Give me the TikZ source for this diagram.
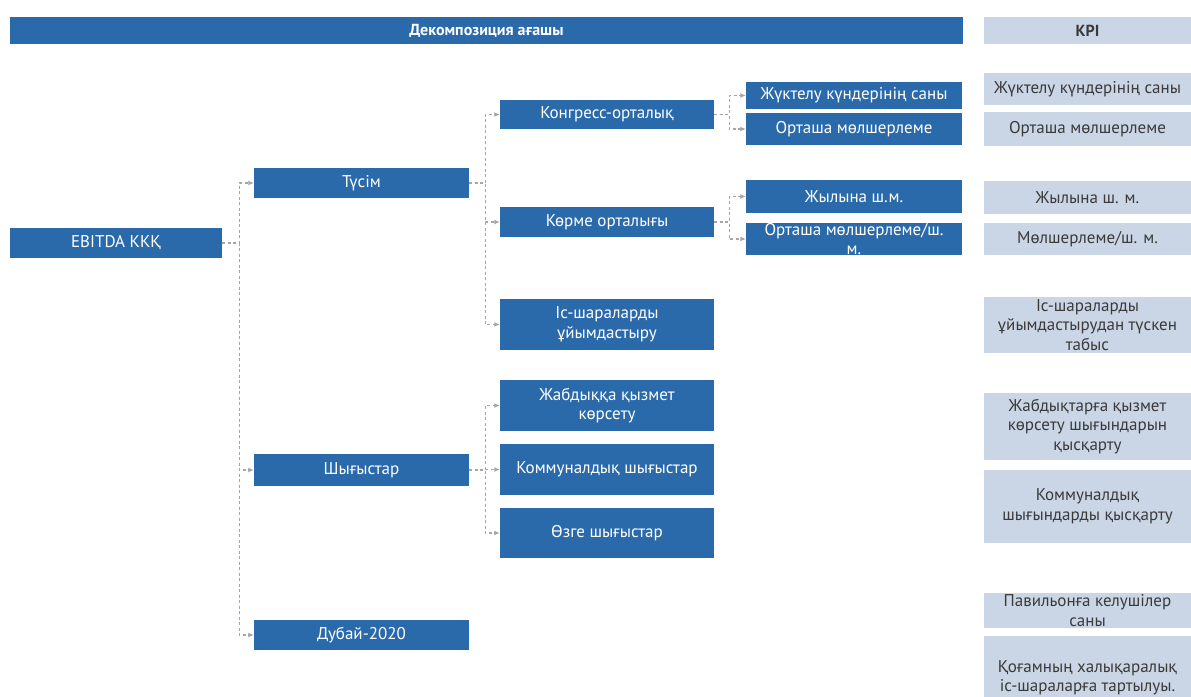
\documentclass[tikz,border=0pt]{standalone}
\usepackage{fontspec}
\setmainfont{PT Sans}
\usetikzlibrary{arrows.meta}
\definecolor{treeblue}{RGB}{42,106,170}
\definecolor{kpifill}{RGB}{202,214,230}
\definecolor{kpitext}{RGB}{58,58,58}
\definecolor{conngray}{RGB}{170,165,165}
\begin{document}
\begin{tikzpicture}[x=1pt,y=-1pt,
  bluebox/.style={fill=treeblue, text=white, font=\fontsize{17}{19.5}\selectfont, align=center, inner sep=0pt},
  kpibox/.style={fill=kpifill, text=kpitext, font=\fontsize{17}{19.5}\selectfont, align=center, inner sep=0pt, minimum width=207pt},
  conn/.style={draw=conngray, line width=1.1pt, dash pattern=on 3pt off 2.5pt, -{Latex[length=5.5pt,width=5pt]}}]
\useasboundingbox[fill=white] (0,0) rectangle (1191,696);
% headers
\node[bluebox, font=\fontsize{16}{18}\bfseries, minimum width=953pt, minimum height=27pt] (head) at (486.5,30.5) {Декомпозиция ағашы};
\node[kpibox, font=\fontsize{16}{18}\bfseries, minimum height=27pt] (kpihead) at (1087.5,30.5) {KPI};
% tree boxes
\node[bluebox, minimum width=212pt, minimum height=30pt] (ebitda) at (116,243) {EBITDA ККҚ};
\node[bluebox, minimum width=215pt, minimum height=30pt] (tusim) at (361.5,183) {Түсім};
\node[bluebox, minimum width=215pt, minimum height=32pt] (shygys) at (361.5,470) {Шығыстар};
\node[bluebox, minimum width=215pt, minimum height=30pt] (dubai) at (361.5,635) {Дубай-2020};
\node[bluebox, minimum width=214pt, minimum height=29pt] (kongress) at (607,114.5) {Конгресс-орталық};
\node[bluebox, minimum width=214pt, minimum height=30pt] (korme) at (607,222) {Көрме орталығы};
\node[bluebox, minimum width=214pt, minimum height=51pt] (isshara) at (607,324.5) {Іс-шараларды\\ұйымдастыру};
\node[bluebox, minimum width=214pt, minimum height=51pt] (zhabdyk) at (607,405.5) {Жабдыққа қызмет\\көрсету};
\node[bluebox, minimum width=214pt, minimum height=51pt] (kommun) at (607,469.5) {Коммуналдық шығыстар};
\node[bluebox, minimum width=214pt, minimum height=50pt] (ozge) at (607,533) {Өзге шығыстар};
\node[bluebox, minimum width=216pt, minimum height=27pt] (zhukt) at (854,95.5) {Жүктелу күндерінің саны};
\node[bluebox, minimum width=216pt, minimum height=32pt] (ortasha) at (854,129) {Орташа мөлшерлеме};
\node[bluebox, minimum width=216pt, minimum height=33pt] (zhylyna) at (854,196.5) {Жылына ш.м.};
\node[bluebox, minimum width=216pt, minimum height=32pt] (ortashash) at (854,239) {};
\node[text=white, font=\fontsize{17}{18.5}\selectfont, align=center, inner sep=0pt, anchor=north] (ortashashtext) at (854,223.5) {Орташа мөлшерлеме/ш.\\м.};
% KPI boxes
\node[kpibox, minimum height=32pt] (k1) at (1087.5,89) {Жүктелу күндерінің саны};
\node[kpibox, minimum height=34pt] (k2) at (1087.5,129) {Орташа мөлшерлеме};
\node[kpibox, minimum height=33pt] (k3) at (1087.5,197.5) {Жылына ш. м.};
\node[kpibox, minimum height=32pt] (k4) at (1087.5,239) {Мөлшерлеме/ш. м.};
\node[kpibox, minimum height=56pt] (k5) at (1087.5,325) {Іс-шараларды\\ұйымдастырудан түскен\\табыс};
\node[kpibox, minimum height=67pt] (k6) at (1087.5,426.5) {Жабдықтарға қызмет\\көрсету шығындарын\\қысқарту};
\node[kpibox, minimum height=73pt] (k7) at (1087.5,506.5) {Коммуналдық\\шығындарды қысқарту};
\node[kpibox, minimum height=35pt] (k8) at (1087.5,610.5) {Павильонға келушілер\\саны};
\node[kpibox, minimum height=84pt] (k9) at (1087.5,678) {Қоғамның халықаралық\\іс-шараларға тартылуы.};
% connectors
\draw[conn] (ebitda.east) -- ++(17,0) |- (tusim.west);
\draw[conn] (ebitda.east) -- ++(17,0) |- (shygys.west);
\draw[conn] (ebitda.east) -- ++(17,0) |- (dubai.west);
\draw[conn] (tusim.east) -- ++(16,0) |- (kongress.west);
\draw[conn] (tusim.east) -- ++(16,0) |- (korme.west);
\draw[conn] (tusim.east) -- ++(16,0) |- (isshara.west);
\draw[conn] (shygys.east) -- ++(16,0) |- (zhabdyk.west);
\draw[conn] (shygys.east) -- ++(16,0) |- (kommun.west);
\draw[conn] (shygys.east) -- ++(16,0) |- (ozge.west);
\draw[conn] (kongress.east) -- ++(15,0) |- (zhukt.west);
\draw[conn] (kongress.east) -- ++(15,0) |- (ortasha.west);
\draw[conn] (korme.east) -- ++(15,0) |- (zhylyna.west);
\draw[conn] (korme.east) -- ++(15,0) |- (ortashash.west);
\end{tikzpicture}
\end{document}
